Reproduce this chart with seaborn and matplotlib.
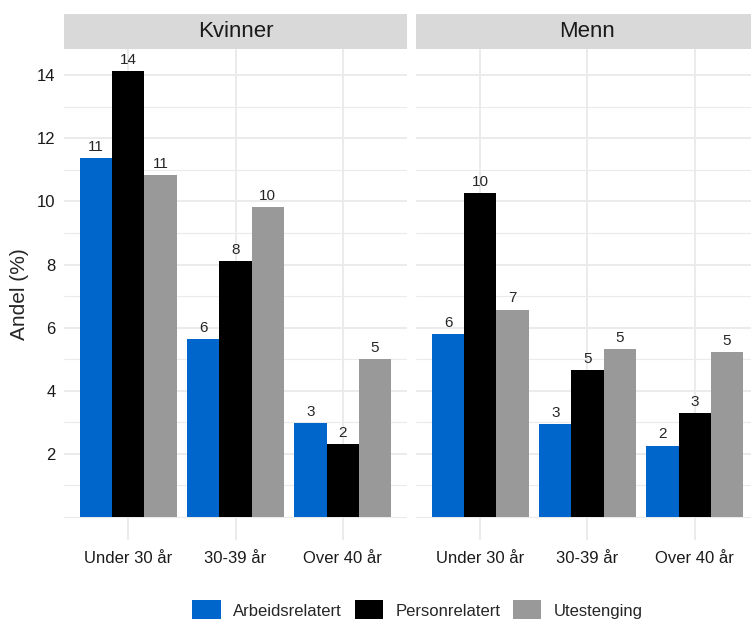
import numpy as np
import pandas as pd
import matplotlib
matplotlib.use("Agg")
import matplotlib.pyplot as plt
import matplotlib.patches as mpatches
import seaborn as sns

kjonn = ["Kvinner", "Menn"]
alder = ["Under 30 år", "30-39 år", "Over 40 år"]
typer = ["Arbeidsrelatert", "Personrelatert", "Utestenging"]
farger = ["#0066CC", "#000000", "#999999"]

# andel (%) per kjønn -> type -> aldersgruppe
kvinner_arbeid = [11.37, 5.64, 2.97]
kvinner_person = [14.14, 8.10, 2.31]
kvinner_ute = [10.83, 9.81, 5.00]
menn_arbeid = [5.80, 2.95, 2.26]
menn_person = [10.27, 4.66, 3.29]
menn_ute = [6.57, 5.33, 5.23]

rows = []
for k, serier in zip(kjonn, [[kvinner_arbeid, kvinner_person, kvinner_ute],
                             [menn_arbeid, menn_person, menn_ute]]):
    for t, vals in zip(typer, serier):
        for a, v in zip(alder, vals):
            rows.append({"kjonn": k, "type": t, "alder": a, "andel": v})
df = pd.DataFrame(rows)

sns.set_style("white")
plt.rcParams["font.family"] = ["Liberation Sans", "DejaVu Sans"]

W, H = 751, 619
fig = plt.figure(figsize=(W / 100, H / 100), dpi=100)

panel_w = 343
lefts = [64, 416]
top_px, bottom_px = 49, 540
strip_top = 14

for k, left in zip(kjonn, lefts):
    ax = fig.add_axes([left / W, (H - bottom_px) / H, panel_w / W, (bottom_px - top_px) / H])
    sub = df[df["kjonn"] == k]
    sns.barplot(data=sub, x="alder", y="andel", hue="type", order=alder, hue_order=typer,
                palette=farger, width=0.9, gap=0, saturation=1, linewidth=0, ax=ax,
                legend=False, errorbar=None)
    ax.set_xlim(-0.6, 2.6)
    ax.set_ylim(-0.73, 14.83)
    ax.set_yticks([2, 4, 6, 8, 10, 12, 14])
    ax.set_yticks([0, 1, 3, 5, 7, 9, 11, 13], minor=True)
    ax.grid(True, which="major", color="#EBEBEB", linewidth=1.4)
    ax.grid(True, which="minor", axis="y", color="#EBEBEB", linewidth=0.8)
    ax.set_axisbelow(True)
    for s in ax.spines.values():
        s.set_visible(False)
    ax.tick_params(axis="both", length=0, labelsize=12, colors="#1A1A1A")
    ax.tick_params(axis="y", pad=6)
    ax.tick_params(axis="x", pad=8)
    ax.set_xlabel("")
    if left == lefts[0]:
        ax.set_ylabel("Andel (%)", fontsize=15, labelpad=6)
    else:
        ax.set_ylabel("")
        ax.set_yticklabels([])
    for cont in ax.containers:
        ax.bar_label(cont, labels=[f"{b.get_height():.0f}" for b in cont],
                     padding=3, fontsize=11)

    sax = fig.add_axes([left / W, (H - top_px) / H, panel_w / W, (top_px - strip_top) / H])
    sax.set_facecolor("#D9D9D9")
    sax.set_xticks([])
    sax.set_yticks([])
    for s in sax.spines.values():
        s.set_visible(False)
    sax.text(0.5, 0.5, k, ha="center", va="center", fontsize=16, color="#1A1A1A",
             transform=sax.transAxes)

handles = [mpatches.Patch(facecolor=c, edgecolor="none", label=t) for c, t in zip(farger, typer)]
fig.legend(handles=handles, loc="center", bbox_to_anchor=(0.556, 8 / H), ncol=3,
           frameon=False, fontsize=12, handlelength=1.7, handleheight=1.7,
           handletextpad=0.75, columnspacing=0.75)

fig.savefig("out.png", dpi=100)
